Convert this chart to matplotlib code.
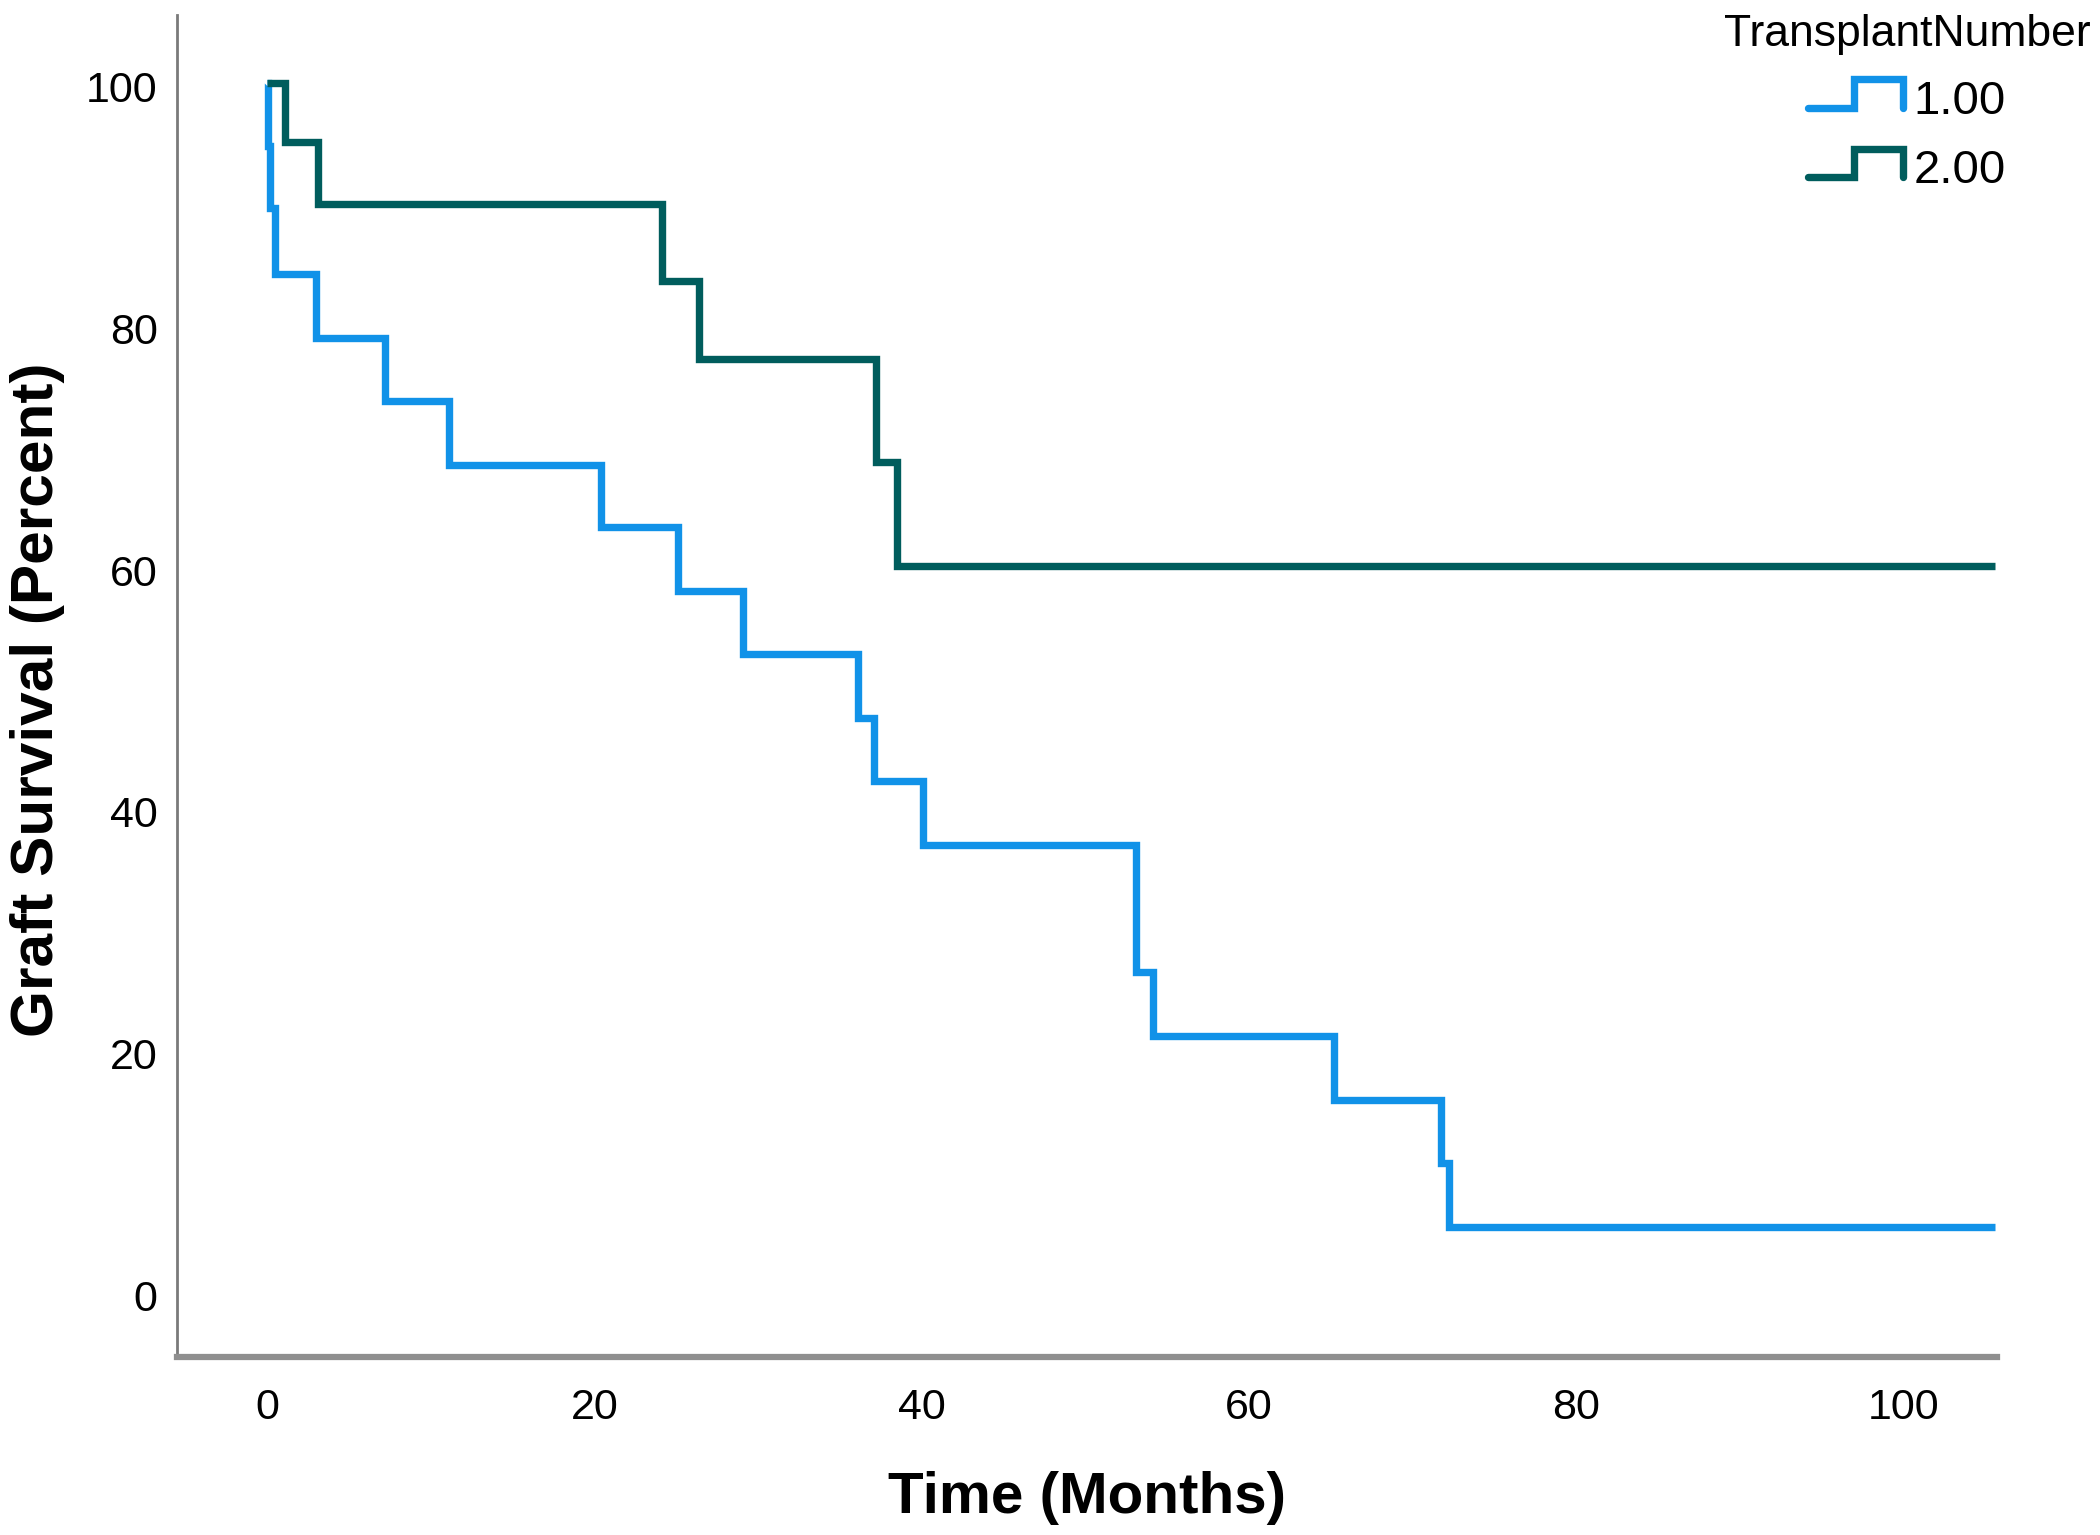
"""
Kaplan-Meier graft survival by transplant number.
"""

import numpy as np
import matplotlib
matplotlib.use("Agg")
import matplotlib.pyplot as plt
from matplotlib import font_manager
from matplotlib.legend_handler import HandlerBase
from matplotlib.lines import Line2D
from matplotlib.transforms import ScaledTranslation

# survival steps (months, percent)
group_labels = ["1.00", "2.00"]
group_colors = ["#1192e8", "#005d5d"]

times_1 = [0, 0.05, 0.2, 0.5, 3.0, 7.2, 11.1, 20.4, 25.1, 29.1, 36.1, 37.1, 40.1,
           53.1, 54.1, 65.2, 71.7, 72.2]
surv_1 = [100, 94.8, 89.6, 84.2, 78.9, 73.7, 68.4, 63.2, 57.9, 52.7, 47.4, 42.2, 36.9,
          26.4, 21.1, 15.8, 10.6, 5.3]

times_2 = [0, 1.1, 3.1, 24.1, 26.4, 37.2, 38.5]
surv_2 = [100, 95.1, 90.0, 83.6, 77.1, 68.6, 60.0]

last_time = 105.6

x_ticks = [0, 20, 40, 60, 80, 100]
y_ticks = [0, 20, 40, 60, 80, 100]

REGULAR = ["Liberation Sans", "DejaVu Sans"]
installed = {f.name for f in font_manager.fontManager.ttflist}
if "Liberation Sans Narrow" in installed:
    NARROW, tick_size, legend_size = ["Liberation Sans Narrow"], 32.5, 36
else:
    NARROW, tick_size, legend_size = REGULAR, 31, 34


class StepHandler(HandlerBase):
    # little step icon like the SPSS legend
    def create_artists(self, legend, orig_handle, xdescent, ydescent,
                       width, height, fontsize, trans):
        xs = np.array([0.0, 0.48, 0.48, 1.0, 1.0]) * width - xdescent
        ys = np.array([0.2, 0.2, 1.05, 1.05, 0.2]) * height - ydescent
        line = Line2D(xs, ys, color=orig_handle.get_color(),
                      lw=orig_handle.get_linewidth(),
                      solid_joinstyle="miter", solid_capstyle="round")
        line.set_transform(trans)
        return [line]


fig = plt.figure(figsize=(21, 15.35), dpi=100)
ax = fig.add_axes([0.0843, 0.1159, 0.8667, 0.8743])

handles = []
for times, surv, color, label in [(times_1, surv_1, group_colors[0], group_labels[0]),
                                  (times_2, surv_2, group_colors[1], group_labels[1])]:
    xs = list(times) + [last_time]
    ys = list(surv) + [surv[-1]]
    (h,) = ax.step(xs, ys, where="post", color=color, lw=5.3, label=label,
                   solid_joinstyle="miter", solid_capstyle="butt")
    handles.append(h)

ax.set_xlim(-5.5, 105.7)
ax.set_ylim(-5.46, 105.6)
ax.set_xticks(x_ticks)
ax.set_yticks(y_ticks)
ax.set_xticklabels([str(t) for t in x_ticks], family=NARROW, fontsize=tick_size)
ax.set_yticklabels([str(t) for t in y_ticks], family=NARROW, fontsize=tick_size)
ax.tick_params(axis="both", length=0, colors="black")
ax.tick_params(axis="x", pad=22)
ax.tick_params(axis="y", pad=14)

# SPSS puts the y labels a touch below the gridline value
shift = ScaledTranslation(0, -4 / 100, fig.dpi_scale_trans)
for lab in ax.get_yticklabels():
    lab.set_transform(lab.get_transform() + shift)

for side in ["top", "right"]:
    ax.spines[side].set_visible(False)
ax.spines["left"].set_color("#7a7a7a")
ax.spines["left"].set_linewidth(2.0)
ax.spines["bottom"].set_color("#8f8f8f")
ax.spines["bottom"].set_linewidth(4.5)

ax.set_xlabel("Time (Months)", family=REGULAR, fontweight="bold", fontsize=42)
ax.xaxis.set_label_coords(0.5, -0.1162)
ax.xaxis.label.set_va("baseline")
ax.set_ylabel("Graft Survival (Percent)", family=REGULAR, fontweight="bold", fontsize=43.5)
ax.yaxis.set_label_coords(-0.0764, 0.49)
ax.yaxis.label.set_va("center")

leg = fig.legend(handles=handles, labels=group_labels, title="TransplantNumber",
                 handler_map={Line2D: StepHandler()},
                 loc="upper center", bbox_to_anchor=(1907 / 2100, 1.0),
                 frameon=False, borderaxespad=0.2, borderpad=0.1,
                 handlelength=2.0, handletextpad=0.23, labelspacing=0.53,
                 prop={"family": NARROW, "size": legend_size},
                 title_fontproperties={"family": REGULAR, "size": 32})

fig.savefig("out.png", dpi=100)
